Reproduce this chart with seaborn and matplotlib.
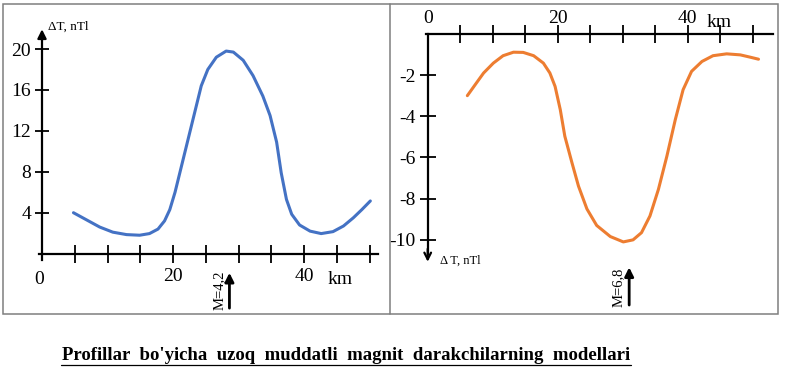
import numpy as np
import pandas as pd
import seaborn as sns
import matplotlib.pyplot as plt
from matplotlib.patches import Rectangle
from matplotlib.lines import Line2D

# left profile: positive anomaly (km, nTl)
km_left = [4.8, 6.8, 8.8, 10.8, 12.9, 14.9, 16.4, 17.7, 18.7, 19.5, 20.3, 21.3,
           22.3, 23.3, 24.3, 25.3, 26.6, 28.1, 29.2, 30.7, 32.2, 33.7, 34.8,
           35.8, 36.5, 37.3, 38.1, 39.3, 40.9, 42.6, 44.4, 46.0, 47.5, 48.8, 50.1]
dt_left = [4.0, 3.3, 2.6, 2.1, 1.86, 1.8, 1.96, 2.4, 3.2, 4.3, 6.0, 8.6,
           11.2, 13.8, 16.4, 18.0, 19.2, 19.8, 19.7, 18.9, 17.4, 15.4, 13.5,
           10.9, 7.9, 5.3, 3.85, 2.8, 2.2, 1.96, 2.15, 2.7, 3.5, 4.3, 5.15]

# right profile: negative anomaly
km_right = [6.1, 7.3, 8.6, 10.1, 11.6, 13.2, 14.7, 16.3, 17.8, 18.8, 19.6, 20.4,
            21.1, 22.2, 23.2, 24.5, 26.0, 28.1, 30.1, 31.6, 32.9, 34.2, 35.5,
            36.8, 38.1, 39.3, 40.6, 42.2, 43.9, 46.0, 48.1, 49.6, 50.9]
dt_right = [-3.0, -2.47, -1.9, -1.42, -1.06, -0.89, -0.9, -1.06, -1.42, -1.9, -2.55, -3.68,
            -4.97, -6.26, -7.39, -8.5, -9.3, -9.84, -10.1, -10.0, -9.65, -8.84, -7.55,
            -5.94, -4.16, -2.71, -1.82, -1.34, -1.06, -0.97, -1.02, -1.13, -1.23]

x_ticks = [5, 10, 15, 20, 25, 30, 35, 40, 45, 50]
x_ticklabels = ['', '', '', '20', '', '', '', '40', '', '']
left_yticks = [4, 8, 12, 16, 20]
right_yticks = [-2, -4, -6, -8, -10]
m_left, m_right = 28.6, 31.0

sns.set_style('white')
plt.rcParams['font.family'] = ['Liberation Serif', 'DejaVu Serif']
plt.rcParams['text.color'] = 'black'
plt.rcParams['xtick.color'] = 'black'
plt.rcParams['ytick.color'] = 'black'

W, H = 785, 375
fig = plt.figure(figsize=(W / 100, H / 100), dpi=100)

ax1 = fig.add_axes([3 / W, 61 / H, 387 / W, 310 / H])
ax2 = fig.add_axes([390 / W, 61 / H, 388 / W, 310 / H])
for ax in (ax1, ax2):
    ax.patch.set_alpha(0)

# ---- left panel ----
sns.lineplot(x=km_left, y=dt_left, ax=ax1, color='#4472C4', lw=2.2)
ax1.set_xlim(-5.95, 53.1)
ax1.set_ylim(-5.9, 24.4)
ax1.spines[['top', 'right']].set_visible(False)
ax1.spines['left'].set_position(('data', 0))
ax1.spines['bottom'].set_position(('data', 0))
ax1.spines['bottom'].set_bounds(-0.4, 51.3)
ax1.spines['left'].set_bounds(-0.6, 21.0)
for s in ('left', 'bottom'):
    ax1.spines[s].set_linewidth(1.6)
    ax1.spines[s].set_color('black')
ax1.set_xticks(x_ticks, x_ticklabels)
ax1.set_yticks(left_yticks, [str(v) for v in left_yticks])
ax1.tick_params(axis='x', bottom=True, direction='inout', length=13, width=1.3, pad=4, labelsize=14)
ax1.tick_params(axis='y', left=True, direction='inout', length=10, width=1.3, pad=3, labelsize=14)
ax1.text(-0.4, -1.7, '0', ha='center', va='top', fontsize=14)
ax1.text(45.5, -1.7, 'km', ha='center', va='top', fontsize=14)
ax1.annotate('', xy=(0, 22.2), xytext=(0, 20.6),
             arrowprops=dict(arrowstyle='-|>', color='black', lw=1.6, mutation_scale=13))
ax1.text(0.9, 22.2, 'ΔT, nTl', ha='left', va='center', fontsize=9.5)
ax1.annotate('', xy=(m_left, -1.6), xytext=(m_left, -5.6),
             arrowprops=dict(arrowstyle='-|>', color='black', lw=2, mutation_scale=13))
ax1.text(m_left - 1.6, -3.6, 'M=4,2', rotation=90, ha='center', va='center', fontsize=10.5)

# ---- right panel ----
sns.lineplot(x=km_right, y=dt_right, ax=ax2, color='#ED7D31', lw=2.2)
ax2.set_xlim(-5.8, 53.9)
ax2.set_ylim(-13.6, 1.45)
ax2.spines[['bottom', 'right']].set_visible(False)
ax2.spines['left'].set_position(('data', 0))
ax2.spines['top'].set_position(('data', 0))
ax2.spines['top'].set_bounds(-0.3, 53.2)
ax2.spines['left'].set_bounds(-10.7, 0)
for s in ('left', 'top'):
    ax2.spines[s].set_linewidth(1.6)
    ax2.spines[s].set_color('black')
ax2.xaxis.set_ticks_position('top')
ax2.set_xticks(x_ticks, x_ticklabels)
ax2.set_yticks(right_yticks, [str(v) for v in right_yticks])
ax2.tick_params(axis='x', top=True, bottom=False, direction='inout', length=13, width=1.3, pad=-1.5, labelsize=14)
ax2.tick_params(axis='y', left=True, direction='inout', length=11, width=1.3, pad=3, labelsize=14)
ax2.text(0, 0.35, '0', ha='center', va='bottom', fontsize=14)
ax2.text(44.8, 0.12, 'km', ha='center', va='bottom', fontsize=14)
ax2.annotate('', xy=(0, -11.2), xytext=(0, -10.3),
             arrowprops=dict(arrowstyle='->', color='black', lw=1.6, mutation_scale=12))
ax2.text(1.9, -11.0, 'Δ T, nTl', ha='left', va='center', fontsize=9)
ax2.annotate('', xy=(m_right, -11.2), xytext=(m_right, -13.3),
             arrowprops=dict(arrowstyle='-|>', color='black', lw=2, mutation_scale=13))
ax2.text(m_right - 1.7, -12.3, 'M=6,8', rotation=90, ha='center', va='center', fontsize=10.5)

# frame around both profiles
fig.add_artist(Rectangle((3 / W, 61 / H), 775 / W, 310 / H, transform=fig.transFigure,
                         fill=False, edgecolor='#7f7f7f', lw=1.1))
fig.add_artist(Line2D([390 / W, 390 / W], [61 / H, 371 / H], transform=fig.transFigure,
                      color='#7f7f7f', lw=1.1))

fig.text(346 / W, 1 - 356 / H, "Profillar  bo'yicha  uzoq  muddatli  magnit  darakchilarning  modellari",
         ha='center', va='center', fontsize=13.5, fontweight='bold')
# underline of the caption
fig.add_artist(Line2D([61 / W, 631 / W], [1 - 365 / H, 1 - 365 / H], transform=fig.transFigure,
                      color='black', lw=0.9))

fig.savefig('out.png', dpi=100)
